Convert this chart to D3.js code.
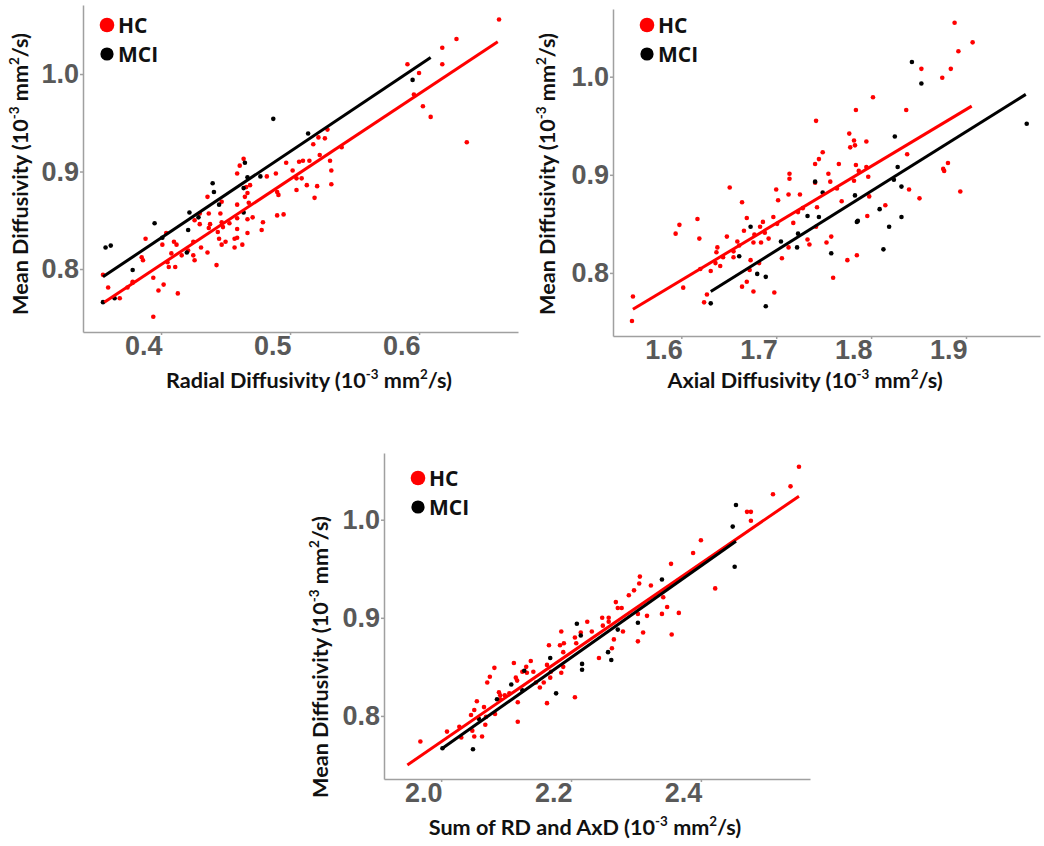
<!DOCTYPE html>
<html><head><meta charset="utf-8">
<script src="https://cdn.jsdelivr.net/npm/d3@7"></script>
<style>
body{margin:0;background:#fff;}
svg{display:block;}
.axis .tick text{font-family:"Liberation Sans",Arial,sans-serif;font-weight:bold;font-size:27px;fill:#595959;}
.axis path.domain,.axis .tick line{stroke:#a0a0a0;stroke-width:1.5;}
.title{font-family:Lato,"Open Sans",sans-serif;font-weight:700;fill:#111;}
.legend text{font-family:"Open Sans",sans-serif;font-weight:700;fill:#111;}
</style></head><body>
<svg id="chart" width="1044" height="846"></svg>
<script>
const groups = ["HC", "MCI"];
const groupColors = ["#ff0000", "#000000"];
const mdTicks = [0.8, 0.9, 1.0];
const rdTicks = [0.4, 0.5, 0.6];
const adTicks = [1.6, 1.7, 1.8, 1.9];
const sumTicks = [2.0, 2.2, 2.4];

// Panel A: Radial diffusivity vs mean diffusivity
const rdHC = [[0.469,0.886],[0.466,0.884],[0.467,0.878],[0.465,0.874],[0.436,0.874],[0.447,0.869],[0.459,0.866],[0.468,0.868],[0.437,0.857],[0.446,0.857],[0.430,0.857],[0.426,0.850],[0.430,0.846],[0.438,0.846],[0.447,0.848],[0.453,0.847],[0.459,0.852],[0.467,0.851],[0.471,0.853],[0.479,0.848],[0.448,0.843],[0.437,0.842],[0.444,0.838],[0.459,0.841],[0.467,0.837],[0.478,0.840],[0.404,0.837],[0.388,0.831],[0.401,0.825],[0.410,0.828],[0.412,0.825],[0.425,0.828],[0.431,0.822],[0.445,0.831],[0.447,0.825],[0.450,0.828],[0.457,0.831],[0.459,0.832],[0.457,0.822],[0.463,0.825],[0.408,0.816],[0.416,0.814],[0.425,0.814],[0.426,0.809],[0.421,0.819],[0.436,0.817],[0.385,0.812],[0.386,0.809],[0.405,0.807],[0.406,0.802],[0.411,0.802],[0.443,0.804],[0.378,0.787],[0.394,0.791],[0.398,0.778],[0.402,0.784],[0.413,0.775],[0.359,0.781],[0.368,0.770],[0.374,0.781],[0.378,0.786],[0.394,0.751],[0.355,0.794],[0.490,0.855],[0.495,0.856],[0.490,0.879],[0.491,0.876],[0.505,0.881],[0.513,0.886],[0.461,0.906],[0.459,0.898],[0.464,0.913],[0.482,0.895],[0.489,0.898],[0.497,0.909],[0.502,0.901],[0.505,0.893],[0.507,0.910],[0.662,1.056],[0.629,1.036],[0.618,1.027],[0.591,1.010],[0.618,1.010],[0.600,1.001],[0.596,0.979],[0.603,0.967],[0.609,0.956],[0.637,0.930],[0.529,0.943],[0.522,0.935],[0.527,0.934],[0.518,0.928],[0.523,0.917],[0.540,0.925],[0.531,0.911],[0.532,0.901],[0.532,0.887],[0.521,0.885],[0.519,0.873],[0.515,0.911],[0.510,0.911],[0.509,0.893]];
const rdMCI = [[0.440,0.888],[0.441,0.879],[0.445,0.866],[0.464,0.883],[0.464,0.858],[0.422,0.858],[0.429,0.853],[0.421,0.840],[0.420,0.817],[0.395,0.847],[0.401,0.832],[0.378,0.799],[0.357,0.822],[0.361,0.824],[0.364,0.770],[0.355,0.766],[0.487,0.954],[0.465,0.909],[0.467,0.894],[0.477,0.895],[0.595,0.994],[0.514,0.939]];
const fitRdHC = [[0.356,0.766],[0.661,1.033]];
const fitRdMCI = [[0.355,0.792],[0.609,1.017]];

// Panel B: Axial diffusivity vs mean diffusivity
const adHC = [[1.549,0.776],[1.548,0.751],[1.594,0.840],[1.598,0.849],[1.617,0.855],[1.619,0.835],[1.602,0.785],[1.620,0.804],[1.631,0.802],[1.624,0.770],[1.627,0.778],[1.636,0.810],[1.637,0.821],[1.638,0.826],[1.641,0.807],[1.644,0.816],[1.648,0.837],[1.651,0.887],[1.655,0.822],[1.655,0.816],[1.659,0.832],[1.661,0.828],[1.664,0.872],[1.666,0.843],[1.669,0.856],[1.669,0.791],[1.664,0.786],[1.672,0.803],[1.673,0.813],[1.676,0.781],[1.676,0.831],[1.677,0.839],[1.683,0.847],[1.684,0.831],[1.686,0.852],[1.688,0.841],[1.692,0.835],[1.682,0.810],[1.698,0.780],[1.697,0.857],[1.700,0.885],[1.701,0.850],[1.702,0.874],[1.706,0.815],[1.713,0.826],[1.713,0.880],[1.718,0.851],[1.723,0.862],[1.725,0.880],[1.733,0.834],[1.735,0.829],[1.728,0.866],[1.742,0.847],[1.743,0.867],[1.753,0.831],[1.758,0.837],[1.760,0.795],[1.769,0.873],[1.775,0.813],[1.785,0.818],[1.796,0.858],[1.798,0.878],[1.815,0.869],[1.840,0.885],[1.851,0.876],[1.894,0.883],[1.888,1.055],[1.907,1.035],[1.892,1.026],[1.884,1.008],[1.875,0.999],[1.853,1.008],[1.802,0.979],[1.784,0.966],[1.837,0.966],[1.742,0.955],[1.777,0.942],[1.782,0.935],[1.778,0.928],[1.783,0.930],[1.795,0.934],[1.749,0.923],[1.745,0.916],[1.741,0.911],[1.766,0.911],[1.784,0.910],[1.795,0.908],[1.787,0.904],[1.755,0.901],[1.838,0.921],[1.881,0.912],[1.876,0.906],[1.877,0.904],[1.714,0.901],[1.714,0.896],[1.757,0.893],[1.741,0.892],[1.797,0.898],[1.782,0.894],[1.764,0.886]];
const adMCI = [[1.631,0.769],[1.661,0.817],[1.673,0.847],[1.680,0.799],[1.689,0.796],[1.689,0.766],[1.705,0.832],[1.722,0.826],[1.723,0.840],[1.733,0.858],[1.745,0.857],[1.749,0.882],[1.758,0.820],[1.783,0.879],[1.785,0.852],[1.786,0.853],[1.809,0.865],[1.813,0.824],[1.819,0.847],[1.832,0.857],[1.843,1.015],[1.853,0.993],[1.964,0.952],[1.825,0.939],[1.828,0.908],[1.824,0.895],[1.832,0.888],[1.741,0.893]];
const fitAdHC = [[1.549,0.763],[1.906,0.970]];
const fitAdMCI = [[1.631,0.781],[1.963,0.982]];

// Panel C: Sum of RD and AxD vs mean diffusivity
const sumHC = [[1.968,0.774],[2.009,0.784],[2.028,0.789],[2.031,0.778],[2.046,0.801],[2.051,0.806],[2.055,0.815],[2.048,0.785],[2.051,0.779],[2.063,0.779],[2.068,0.791],[2.069,0.799],[2.066,0.809],[2.071,0.834],[2.075,0.840],[2.082,0.849],[2.083,0.802],[2.091,0.817],[2.089,0.824],[2.091,0.821],[2.098,0.821],[2.105,0.823],[2.112,0.854],[2.115,0.839],[2.117,0.836],[2.118,0.814],[2.118,0.794],[2.125,0.845],[2.131,0.850],[2.132,0.844],[2.138,0.856],[2.142,0.845],[2.146,0.834],[2.152,0.829],[2.158,0.834],[2.163,0.852],[2.163,0.813],[2.166,0.872],[2.168,0.839],[2.169,0.845],[2.185,0.844],[2.188,0.850],[2.206,0.819],[2.551,1.054],[2.538,1.034],[2.511,1.026],[2.471,1.008],[2.477,1.008],[2.477,0.999],[2.400,0.979],[2.388,0.966],[2.354,0.955],[2.422,0.930],[2.306,0.942],[2.305,0.935],[2.323,0.933],[2.297,0.928],[2.289,0.923],[2.269,0.916],[2.272,0.910],[2.278,0.910],[2.342,0.921],[2.348,0.911],[2.366,0.905],[2.340,0.904],[2.317,0.902],[2.303,0.904],[2.248,0.900],[2.258,0.900],[2.258,0.896],[2.225,0.896],[2.249,0.892],[2.355,0.883],[2.311,0.885],[2.303,0.876],[2.280,0.886],[2.266,0.878],[2.263,0.869],[2.232,0.886],[2.215,0.885],[2.206,0.880],[2.208,0.874],[2.185,0.886],[2.189,0.874],[2.183,0.872],[2.188,0.865],[2.243,0.859]];
const sumMCI = [[2.002,0.767],[2.049,0.766],[2.058,0.797],[2.086,0.817],[2.108,0.832],[2.128,0.846],[2.125,0.826],[2.177,0.823],[2.217,0.853],[2.217,0.847],[2.454,1.015],[2.449,0.993],[2.452,0.952],[2.340,0.939],[2.303,0.895],[2.209,0.894],[2.215,0.882],[2.272,0.888],[2.257,0.865],[2.262,0.857],[2.168,0.859]];
const fitSumHC = [[1.948,0.750],[2.551,1.024]];
const fitSumMCI = [[2.002,0.767],[2.454,0.978]];

const yTitleText = "Mean Diffusivity";
const xTitleTexts = ["Radial Diffusivity", "Axial Diffusivity", "Sum of RD and AxD"];

// layout (pixels) for each panel
const panels = [
  {hc: rdHC, mci: rdMCI, fitHC: fitRdHC, fitMCI: fitRdMCI, xTicks: rdTicks, xName: xTitleTexts[0],
   xDom: [0.3395, 0.6767], xRng: [83, 518], yDom: [0.7354, 1.0708], yRng: [332, 5],
   yt: [28, 174], xt: [309, 388], lg: [107, 25, 118]},
  {hc: adHC, mci: adMCI, fitHC: fitAdHC, fitMCI: fitAdMCI, xTicks: adTicks, xName: xTitleTexts[1],
   xDom: [1.528, 1.978], xRng: [613, 1040], yDom: [0.7357, 1.069], yRng: [336, 9],
   yt: [555, 174], xt: [805, 388], lg: [647, 25, 658]},
  {hc: sumHC, mci: sumMCI, fitHC: fitSumHC, fitMCI: fitSumMCI, xTicks: sumTicks, xName: xTitleTexts[2],
   xDom: [1.912, 2.568], xRng: [384, 810], yDom: [0.7357, 1.068], yRng: [779, 453],
   yt: [328, 657], xt: [585, 835], lg: [418, 478, 429]}
];

const svg = d3.select("#chart");
const fmt = d3.format(".1f");

function unitParts(name) {
  return [[name + " (10", false], ["-3", true], [" mm", false], ["2", true], ["/s)", false]];
}
function writeTitle(t, parts, fs) {
  t.attr("font-size", fs);
  let prevSup = false;
  parts.forEach(([s, sup]) => {
    const ts = t.append("tspan").text(s);
    if (sup) { ts.attr("font-size", fs * 0.62).attr("dy", -fs * 0.42); }
    else if (prevSup) { ts.attr("dy", fs * 0.42); }
    prevSup = sup;
  });
}

// determine title font size from the first x title width
const probe = svg.append("text").attr("class", "title");
writeTitle(probe, unitParts(xTitleTexts[0]), 20);
const probeW = probe.node().getComputedTextLength();
probe.remove();
const titleFS = 20 * 286 / probeW;

panels.forEach(p => {
  const x = d3.scaleLinear().domain(p.xDom).range(p.xRng);
  const y = d3.scaleLinear().domain(p.yDom).range(p.yRng);
  const g = svg.append("g");

  const xa = g.append("g").attr("class", "axis").attr("transform", `translate(0,${p.yRng[0]})`)
    .call(d3.axisBottom(x).tickValues(p.xTicks).tickFormat(fmt).tickSize(3).tickSizeOuter(0).tickPadding(1));
  xa.selectAll(".tick text").attr("text-anchor", "end").attr("x", 1);
  g.append("g").attr("class", "axis").attr("transform", `translate(${p.xRng[0]},0)`)
    .call(d3.axisLeft(y).tickValues(mdTicks).tickFormat(fmt).tickSize(3).tickSizeOuter(0).tickPadding(1));

  [[p.hc, 0], [p.mci, 1]].forEach(([data, gi]) => {
    g.append("g").selectAll("circle").data(data).join("circle")
      .attr("cx", d => x(d[0])).attr("cy", d => y(d[1])).attr("r", 2.3)
      .attr("fill", groupColors[gi]);
  });
  const line = d3.line().x(d => x(d[0])).y(d => y(d[1]));
  [[p.fitHC, 0], [p.fitMCI, 1]].forEach(([f, gi]) => {
    g.append("path").attr("d", line(f)).attr("fill", "none")
      .attr("stroke", groupColors[gi]).attr("stroke-width", 3);
  });

  // legend
  const lg = g.append("g").attr("class", "legend");
  groups.forEach((name, i) => {
    lg.append("circle").attr("cx", p.lg[0]).attr("cy", p.lg[1] + i * 29)
      .attr("r", i === 0 ? 7.3 : 6.6).attr("fill", groupColors[i]);
    lg.append("text").attr("x", p.lg[2]).attr("y", p.lg[1] + 7.5 + i * 29.5)
      .attr("font-size", 21).text(name);
  });

  // titles
  const xt = g.append("text").attr("class", "title").attr("text-anchor", "middle")
    .attr("x", p.xt[0]).attr("y", p.xt[1]);
  writeTitle(xt, unitParts(p.xName), titleFS);
  const yt = g.append("text").attr("class", "title").attr("text-anchor", "middle")
    .attr("transform", `translate(${p.yt[0]},${p.yt[1]}) rotate(-90)`);
  writeTitle(yt, unitParts(yTitleText), titleFS);
});
</script>
</body></html>
